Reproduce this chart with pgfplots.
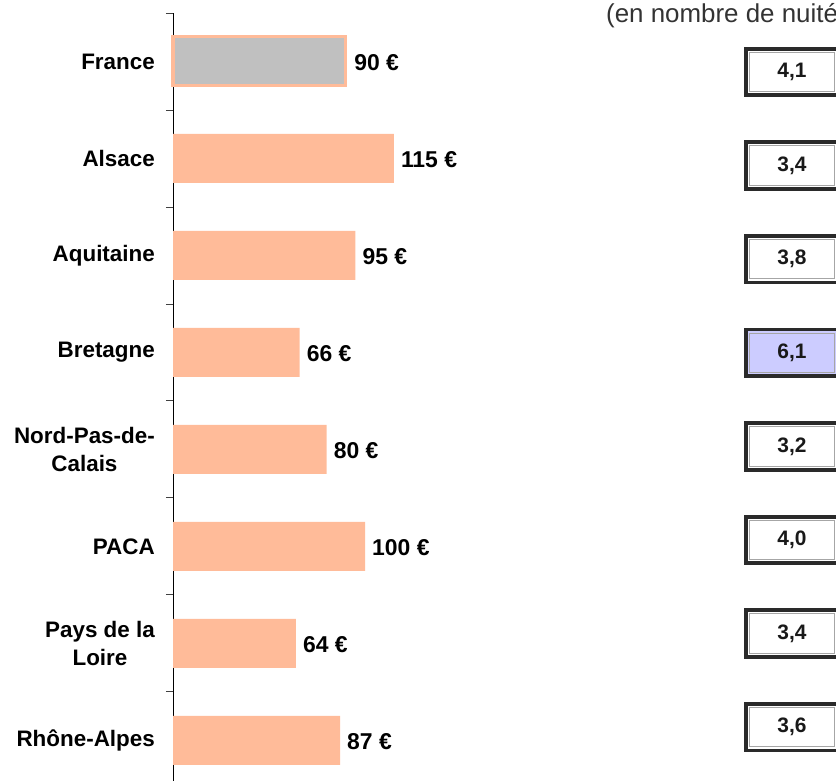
\documentclass[border=0pt]{standalone}
\usepackage{fontspec}
\setmainfont{Liberation Sans}
\usepackage{pgfplots}
\pgfplotsset{compat=1.18}
\definecolor{peach}{HTML}{FFBB99}
\definecolor{lgray}{HTML}{C0C0C0}
\definecolor{lav}{HTML}{CCCCFF}
\definecolor{boxline}{HTML}{2A2A2A}
\begin{document}
\begin{tikzpicture}
\useasboundingbox (0,0) rectangle (836bp,781bp);
\begin{axis}[
  at={(173bp,768bp)}, anchor=north west,
  scale only axis, width=576bp, height=768bp,
  xmin=0, xmax=300, ymin=-0.5, ymax=7.42, y dir=reverse,
  axis x line=none, axis y line*=left,
  clip=false,
  xbar, bar width=49bp, bar shift=0pt,
  ytick={-0.5,0.5,1.5,2.5,3.5,4.5,5.5,6.5}, yticklabels={},
  tick align=outside, major tick length=7bp,
  tick style={black!75, line width=0.8bp},
  axis line style={black, line width=0.9bp, -},
  extra y ticks={0,1,2,3,4,5,6,7},
  extra y tick labels={France, Alsace, Aquitaine, Bretagne, {Nord-Pas-de-\\Calais}, PACA, {Pays de la\\Loire}, Rhône-Alpes},
  extra y tick style={major tick length=0pt, tick style={draw=none},
    yticklabel style={font=\bfseries\fontsize{22.5}{27.5}\selectfont, align=center, inner sep=0pt, xshift=-18bp, text=black}},
  /pgf/number format/assume math mode=true,
  point meta=x,
  nodes near coords={\pgfmathprintnumber{\pgfplotspointmeta}\ €},
  every node near coord/.append style={anchor=west, inner sep=0pt, xshift=7bp, yshift=-1bp, text=black, font=\bfseries\fontsize{23}{27}\selectfont},
]
\addplot[fill=lgray, draw=peach, line width=3bp] coordinates {(90,0)};
\addplot[fill=peach, draw=none] coordinates {(115,1) (95,2) (66,3) (80,4) (100,5) (64,6) (87,7)};
\end{axis}
\begin{axis}[
  at={(745bp,709bp)}, anchor=north west,
  scale only axis, width=94bp, height=655.2bp,
  xmin=0, xmax=1, ymin=0, ymax=7, y dir=reverse,
  hide axis, clip=false,
  point meta=explicit,
  /pgf/number format/assume math mode=true,
  nodes near coords={\pgfmathprintnumber[use comma, fixed, fixed zerofill, precision=1]{\pgfplotspointmeta}},
  every node near coord/.append style={anchor=center, text=black!90, font=\bfseries\fontsize{21}{24}\selectfont,
    draw=boxline, line width=3.8bp, minimum width=92.5bp, minimum height=46.5bp, inner sep=0pt,
    path picture={\draw[gray!70, line width=1bp] ([xshift=3.6bp,yshift=-3.6bp]path picture bounding box.north west) rectangle ([xshift=-3.6bp,yshift=3.6bp]path picture bounding box.south east);}},
]
\addplot[only marks, mark=none, every node near coord/.append style={fill=white}] coordinates {(0.5,0) [4.1] (0.5,1) [3.4] (0.5,2) [3.8] (0.5,4) [3.2] (0.5,5) [4.0] (0.5,6) [3.4] (0.5,7) [3.6]};
\addplot[only marks, mark=none, every node near coord/.append style={fill=lav}] coordinates {(0.5,3) [6.1]};
\end{axis}
\node[anchor=base west, text=black!80, font=\fontsize{26}{30}\selectfont, inner sep=0pt] at (606bp,758.2bp) {(en nombre de nuitées)};
\end{tikzpicture}
\end{document}
